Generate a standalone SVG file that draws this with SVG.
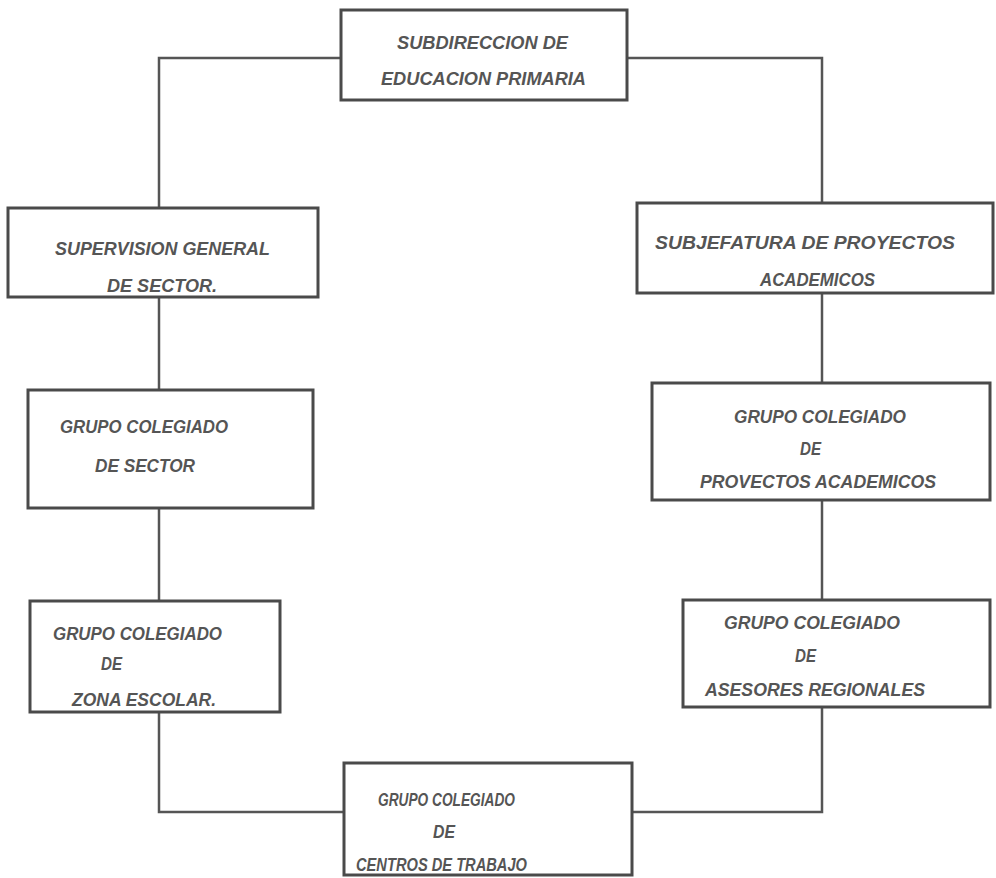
<svg xmlns="http://www.w3.org/2000/svg" width="996" height="878" viewBox="0 0 996 878">
<style>
.box{fill:#fff;stroke:#4a4a4a;stroke-width:3}
.con{fill:none;stroke:#555;stroke-width:2.5}
text{font-family:"Liberation Sans",Arial,sans-serif;font-weight:bold;font-style:italic;font-size:18px;fill:#555}
</style>
<rect width="996" height="878" fill="#fff"/>
<g id="connectors">
<polyline class="con" points="341,58 159,58 159,208"/>
<polyline class="con" points="627,58 822,58 822,203"/>
<line class="con" x1="159" y1="297" x2="159" y2="390"/>
<line class="con" x1="159" y1="508" x2="159" y2="601"/>
<polyline class="con" points="159,712 159,812 344,812"/>
<line class="con" x1="822" y1="293" x2="822" y2="383"/>
<line class="con" x1="822" y1="500" x2="822" y2="600"/>
<polyline class="con" points="822,707 822,812 632,812"/>
</g>
<g id="n-subdireccion">
<rect class="box" x="341" y="10" width="286" height="90"/>
<text x="397" y="49" textLength="171" lengthAdjust="spacingAndGlyphs">SUBDIRECCION DE</text>
<text x="381" y="85" textLength="205" lengthAdjust="spacingAndGlyphs">EDUCACION PRIMARIA</text>
</g>
<g id="n-supervision">
<rect class="box" x="8" y="208" width="310" height="89"/>
<text x="55" y="255" textLength="215" lengthAdjust="spacingAndGlyphs">SUPERVISION GENERAL</text>
<text x="107" y="292" textLength="110" lengthAdjust="spacingAndGlyphs">DE SECTOR.</text>
</g>
<g id="n-subjefatura">
<rect class="box" x="637" y="203" width="356" height="90"/>
<text x="655" y="249" textLength="300" lengthAdjust="spacingAndGlyphs">SUBJEFATURA DE PROYECTOS</text>
<text x="760" y="286" textLength="115" lengthAdjust="spacingAndGlyphs">ACADEMICOS</text>
</g>
<g id="n-gc-sector">
<rect class="box" x="28" y="390" width="285" height="118"/>
<text x="60" y="433" textLength="168" lengthAdjust="spacingAndGlyphs">GRUPO COLEGIADO</text>
<text x="95" y="472" textLength="100" lengthAdjust="spacingAndGlyphs">DE SECTOR</text>
</g>
<g id="n-gc-proyectos">
<rect class="box" x="652" y="383" width="338" height="117"/>
<text x="734" y="423" textLength="172" lengthAdjust="spacingAndGlyphs">GRUPO COLEGIADO</text>
<text x="800" y="455" textLength="21" lengthAdjust="spacingAndGlyphs">DE</text>
<text x="700" y="488" textLength="236" lengthAdjust="spacingAndGlyphs">PROVECTOS ACADEMICOS</text>
</g>
<g id="n-gc-zona">
<rect class="box" x="30" y="601" width="250" height="111"/>
<text x="53" y="640" textLength="169" lengthAdjust="spacingAndGlyphs">GRUPO COLEGIADO</text>
<text x="101" y="670" textLength="21" lengthAdjust="spacingAndGlyphs">DE</text>
<text x="72" y="706" textLength="144" lengthAdjust="spacingAndGlyphs">ZONA ESCOLAR.</text>
</g>
<g id="n-gc-asesores">
<rect class="box" x="683" y="600" width="307" height="107"/>
<text x="724" y="629" textLength="176" lengthAdjust="spacingAndGlyphs">GRUPO COLEGIADO</text>
<text x="795" y="662" textLength="21" lengthAdjust="spacingAndGlyphs">DE</text>
<text x="705" y="696" textLength="220" lengthAdjust="spacingAndGlyphs">ASESORES REGIONALES</text>
</g>
<g id="n-gc-centros">
<rect class="box" x="344" y="763" width="288" height="112"/>
<text x="378" y="806" textLength="137" lengthAdjust="spacingAndGlyphs">GRUPO COLEGIADO</text>
<text x="433" y="838" textLength="22" lengthAdjust="spacingAndGlyphs">DE</text>
<text x="356" y="871" textLength="171" lengthAdjust="spacingAndGlyphs">CENTROS DE TRABAJO</text>
</g>
</svg>
